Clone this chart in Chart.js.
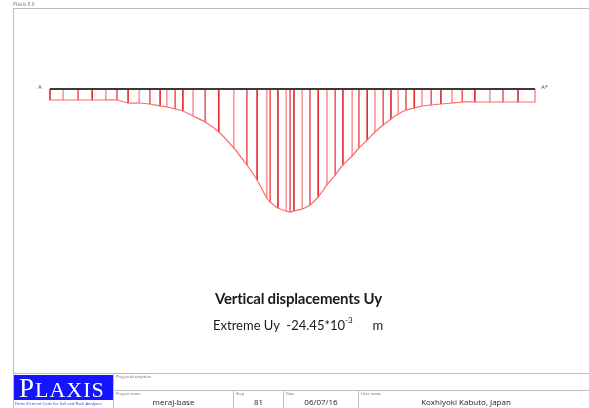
<!DOCTYPE html>
<html>
<head>
<meta charset="utf-8">
<script src="https://cdn.jsdelivr.net/npm/chart.js@4.4.0/dist/chart.umd.min.js"></script>
<style>
  body { margin: 0; background: #fff; font-family: "Open Sans", sans-serif; }
  #wrap { position: relative; width: 589px; height: 408px; overflow: hidden; }
  #c { position: absolute; left: 0; top: 0; }
  .t { position: absolute; white-space: nowrap; color: #222; }
  .ln { position: absolute; background: #bdbdbd; }
  .tiny { font-size: 4px; color: #666; }
</style>
</head>
<body>
<div id="wrap">
  <canvas id="c" width="589" height="408"></canvas>

  <!-- page frame -->
  <div class="t" style="left:13px;top:1px;font-size:5px;color:#777">Plaxis 8.6</div>
  <div class="ln" style="left:13px;top:8px;width:576px;height:1px"></div>
  <div class="ln" style="left:13px;top:8px;width:1px;height:400px"></div>

  <div class="t" style="left:38px;top:83px;font-size:6px;color:#555">A</div>
  <div class="t" style="left:541px;top:83px;font-size:6px;color:#555">A*</div>

  <div class="t" style="left:4px;width:589px;top:289px;text-align:center;font-family:Lato,sans-serif;font-weight:bold;font-size:15px;color:#1a1a1a;letter-spacing:-0.2px">Vertical displacements Uy</div>
  <div class="t" style="left:213px;top:317px;font-family:Lato,sans-serif;font-size:13px;color:#1a1a1a">Extreme Uy&nbsp;&nbsp;-24.45*10<sup style="font-size:8px;position:relative;top:-2px">-3</sup>&nbsp;&nbsp;&nbsp;&nbsp;&nbsp;&nbsp;m</div>

  <!-- title block -->
  <div class="ln" style="left:13px;top:373px;width:576px;height:1px"></div>
  <div class="ln" style="left:113px;top:390px;width:476px;height:1px"></div>
  <div class="ln" style="left:113px;top:373px;width:1px;height:35px"></div>
  <div class="ln" style="left:233px;top:390px;width:1px;height:18px"></div>
  <div class="ln" style="left:283px;top:390px;width:1px;height:18px"></div>
  <div class="ln" style="left:358px;top:390px;width:1px;height:18px"></div>
  <div style="position:absolute;left:14px;top:375px;width:99px;height:25px;background:#1414ff"></div>
  <div class="t" style="left:19px;top:373px;font-family:'Liberation Serif',serif;color:#fff;font-size:22px;letter-spacing:1px"><span style="font-size:27px">P</span>LAXIS</div>
  <div class="t" style="left:15px;top:401px;font-size:4px;color:#3030d0">Finite Element Code for Soil and Rock Analyses</div>
  <div class="t tiny" style="left:116px;top:374px">Project description</div>
  <div class="t tiny" style="left:116px;top:391px">Project name</div>
  <div class="t tiny" style="left:236px;top:391px">Step</div>
  <div class="t tiny" style="left:286px;top:391px">Date</div>
  <div class="t tiny" style="left:361px;top:391px">User name</div>
  <div class="t" style="left:114px;width:119px;top:396px;text-align:center;font-size:8px">meraj-base</div>
  <div class="t" style="left:234px;width:49px;top:396px;text-align:center;font-size:8px">81</div>
  <div class="t" style="left:284px;width:74px;top:396px;text-align:center;font-size:8px">06/07/16</div>
  <div class="t" style="left:359px;width:214px;top:396px;text-align:center;font-size:8px">Koxhiyoki Kabuto, Japan</div>
</div>
<script>
// node positions along the section (m) and vertical displacement Uy (10^-3 m)
const xNodes = [0, 2.7, 5.8, 8.7, 11.5, 13.8, 16.1, 18.4, 20.6, 22.7, 24.1, 25.8, 27.4, 29.5, 32.0,
  34.8, 37.9, 40.6, 42.7, 44.7, 45.4, 47.0, 48.7, 49.5, 50.3, 52.0, 53.6, 55.3, 57.1, 58.8,
  60.4, 62.3, 63.7, 65.4, 67.0, 68.7, 70.3, 71.8, 73.4, 75.1, 76.7, 78.6, 80.6, 82.9, 85.0,
  87.6, 90.7, 93.4, 96.5, 100];
const uy = [-2.19, -2.19, -2.19, -2.19, -2.19, -2.19, -2.78, -2.78, -2.98, -3.38, -3.58, -3.98, -4.37, -5.37, -6.56,
  -8.55, -11.73, -15.11, -18.09, -21.67, -22.46, -23.66, -24.25, -24.45, -24.25, -23.85, -23.06, -21.47, -19.08, -17.10,
  -15.11, -13.32, -11.73, -10.14, -8.55, -7.16, -5.96, -4.97, -4.17, -3.78, -3.38, -3.18, -2.98, -2.78, -2.58,
  -2.58, -2.58, -2.58, -2.58, -2.58];
const groundX = [0, 100];

const pts = xNodes.map((x, i) => ({ x: x, y: uy[i] }));
const barColors = xNodes.map((x, i) => i % 3 === 0 ? '#e52a2f' : (i % 3 === 1 ? '#f79a9c' : '#f25f63'));

new Chart(document.getElementById('c').getContext('2d'), {
  type: 'bar',
  data: {
    datasets: [
      {
        type: 'line',
        data: groundX.map(x => ({ x: x, y: 0 })),
        borderColor: '#3a3a3a',
        borderWidth: 2,
        pointRadius: 0,
        order: 0,
        clip: false
      },
      {
        type: 'line',
        data: pts,
        borderColor: '#ff6b6b',
        borderWidth: 1.2,
        pointRadius: 0,
        tension: 0.25,
        order: 1,
        clip: false
      },
      {
        data: pts,
        backgroundColor: barColors,
        barThickness: 1,
        grouped: false,
        order: 2,
        clip: false
      }
    ]
  },
  options: {
    responsive: false,
    animation: false,
    layout: { padding: { left: 50, right: 54, top: 89, bottom: 196 } },
    plugins: { legend: { display: false }, tooltip: { enabled: false } },
    scales: {
      x: { type: 'linear', min: 0, max: 100, offset: false, display: false },
      y: { min: -24.45, max: 0, display: false }
    }
  }
});
</script>
</body>
</html>
